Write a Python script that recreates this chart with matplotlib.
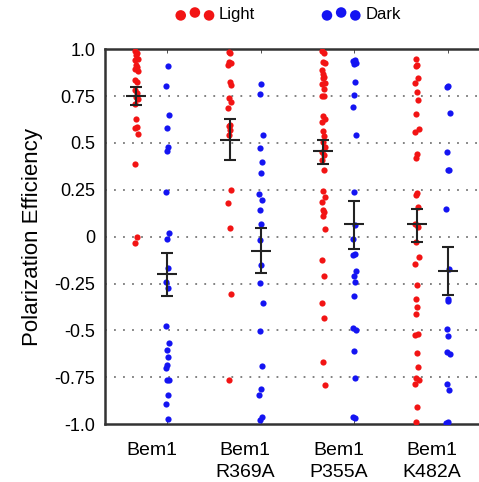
import numpy as np
import matplotlib.pyplot as plt

plt.rcParams['font.family'] = ['Liberation Sans', 'DejaVu Sans']

groups = ['Bem1', 'Bem1\nR369A', 'Bem1\nP355A', 'Bem1\nK482A']

light = [
    [0.989, 0.982, 0.968, 0.950, 0.941, 0.915, 0.906, 0.893, 0.883, 0.838, 0.826,
     0.781, 0.764, 0.746, 0.732, 0.710, 0.627, 0.586, 0.580, 0.550, 0.385, -0.004, -0.035],
    [0.985, 0.977, 0.932, 0.924, 0.915, 0.826, 0.808, 0.737, 0.716, 0.687, 0.598,
     0.589, 0.568, 0.541, 0.248, 0.180, 0.045, -0.308, -0.762],
    [0.989, 0.977, 0.932, 0.924, 0.888, 0.870, 0.852, 0.844, 0.822, 0.812, 0.790,
     0.751, 0.749, 0.644, 0.630, 0.612, 0.563, 0.538, 0.506, 0.479, 0.452, 0.435,
     0.408, 0.355, 0.243, 0.212, 0.186, 0.141, 0.132, 0.111, 0.040, -0.125, -0.209,
     -0.356, -0.433, -0.671, -0.792],
    [0.950, 0.918, 0.911, 0.844, 0.817, 0.772, 0.728, 0.653, 0.573, 0.556, 0.440,
     0.417, 0.234, 0.221, 0.159, 0.070, 0.061, 0.052, -0.028, -0.109, -0.148, -0.259,
     -0.333, -0.374, -0.410, -0.518, -0.525, -0.623, -0.694, -0.753, -0.765, -0.788,
     -0.907, -0.988],
]
dark = [
    [0.909, 0.803, 0.648, 0.580, 0.476, 0.456, 0.236, 0.022, -0.010, -0.166, -0.241,
     -0.276, -0.477, -0.566, -0.605, -0.644, -0.685, -0.700, -0.762, -0.767, -0.845,
     -0.895, -0.975],
    [0.813, 0.760, 0.541, 0.474, 0.399, 0.337, 0.227, 0.195, 0.143, 0.070, -0.017,
     -0.152, -0.246, -0.353, -0.504, -0.692, -0.815, -0.845, -0.961, -0.979],
    [0.940, 0.935, 0.925, 0.920, 0.826, 0.758, 0.691, 0.541, 0.239, 0.060, -0.010,
     -0.090, -0.099, -0.182, -0.211, -0.241, -0.318, -0.486, -0.499, -0.611, -0.753,
     -0.961, -0.966],
    [0.803, 0.796, 0.657, 0.452, 0.358, 0.353, 0.147, -0.173, -0.330, -0.344, -0.490,
     -0.530, -0.614, -0.627, -0.788, -0.818, -0.988, -0.996],
]

light_mean = [0.75, 0.518, 0.458, 0.065]
light_lo = [0.70, 0.408, 0.39, -0.028]
light_hi = [0.80, 0.625, 0.518, 0.15]
dark_mean = [-0.20, -0.076, 0.065, -0.182]
dark_lo = [-0.316, -0.193, -0.067, -0.312]
dark_hi = [-0.086, 0.045, 0.19, -0.054]

red = '#f21414'
blue = '#1414f2'
jit = np.array([-0.03, 0.02, -0.01, 0.05, -0.05, 0.0, 0.03, -0.02, 0.06, -0.04, 0.015])

fig = plt.figure(figsize=(4.79, 4.82), dpi=100)
ax = fig.add_axes([0.219, 0.120, 0.781, 0.778])

for i in range(4):
    xl = 3 * i + 1
    xd = 3 * i + 2
    yl = np.array(light[i])
    yd = np.array(dark[i])
    ax.scatter(xl + np.resize(jit, len(yl)), yl, s=20, color=red, lw=0, zorder=3,
               label='Light' if i == 0 else None)
    ax.scatter(xd + np.resize(jit[::-1], len(yd)), yd, s=20, color=blue, lw=0, zorder=3,
               label='Dark' if i == 0 else None)
    ax.errorbar([xl], [light_mean[i]],
                yerr=[[light_mean[i] - light_lo[i]], [light_hi[i] - light_mean[i]]],
                fmt='_', color='#222222', ms=15, mew=1.5, elinewidth=1.5,
                capsize=4.5, capthick=1.5, zorder=4)
    ax.errorbar([xd], [dark_mean[i]],
                yerr=[[dark_mean[i] - dark_lo[i]], [dark_hi[i] - dark_mean[i]]],
                fmt='_', color='#222222', ms=15, mew=1.5, elinewidth=1.5,
                capsize=4.5, capthick=1.5, zorder=4)

ax.set_xlim(0, 12)
ax.set_ylim(-1, 1)
yt = [1.0, 0.75, 0.5, 0.25, 0, -0.25, -0.5, -0.75, -1.0]
ax.set_yticks(yt)
ax.set_yticklabels(['1.0', '0.75', '0.5', '0.25', '0', '-0.25', '-0.5', '-0.75', '-1.0'],
                   fontsize=13)
for v in yt[1:-1]:
    ax.axhline(v, color='#777777', lw=1.3, ls=(0, (1, 4)), zorder=1)

ax.set_xticks([1.5, 4.5, 7.5, 10.5])
ax.set_xticklabels(groups, fontsize=14, linespacing=1.35)
ax.tick_params(axis='x', which='major', length=0, pad=13)
ax.set_xticks([2, 5, 8, 11], minor=True)
ax.tick_params(axis='x', which='minor', direction='in', top=True, length=3,
               color='#333333')
ax.tick_params(axis='y', length=0, pad=7)

for s in ['left', 'bottom', 'top']:
    ax.spines[s].set_color('#333333')
    ax.spines[s].set_linewidth(1.8)
ax.spines['right'].set_visible(False)

ax.set_ylabel('Polarization Efficiency', fontsize=16, labelpad=8)

ax.legend(loc='lower center', bbox_to_anchor=(0.49, 1.0), ncol=2, frameon=False,
          scatterpoints=3, scatteryoffsets=[0.35, 0.6, 0.35], markerscale=1.7,
          fontsize=12, handletextpad=0.3, columnspacing=4.0, handlelength=2.3,
          borderaxespad=1.2)

fig.savefig('out.png', dpi=100)
